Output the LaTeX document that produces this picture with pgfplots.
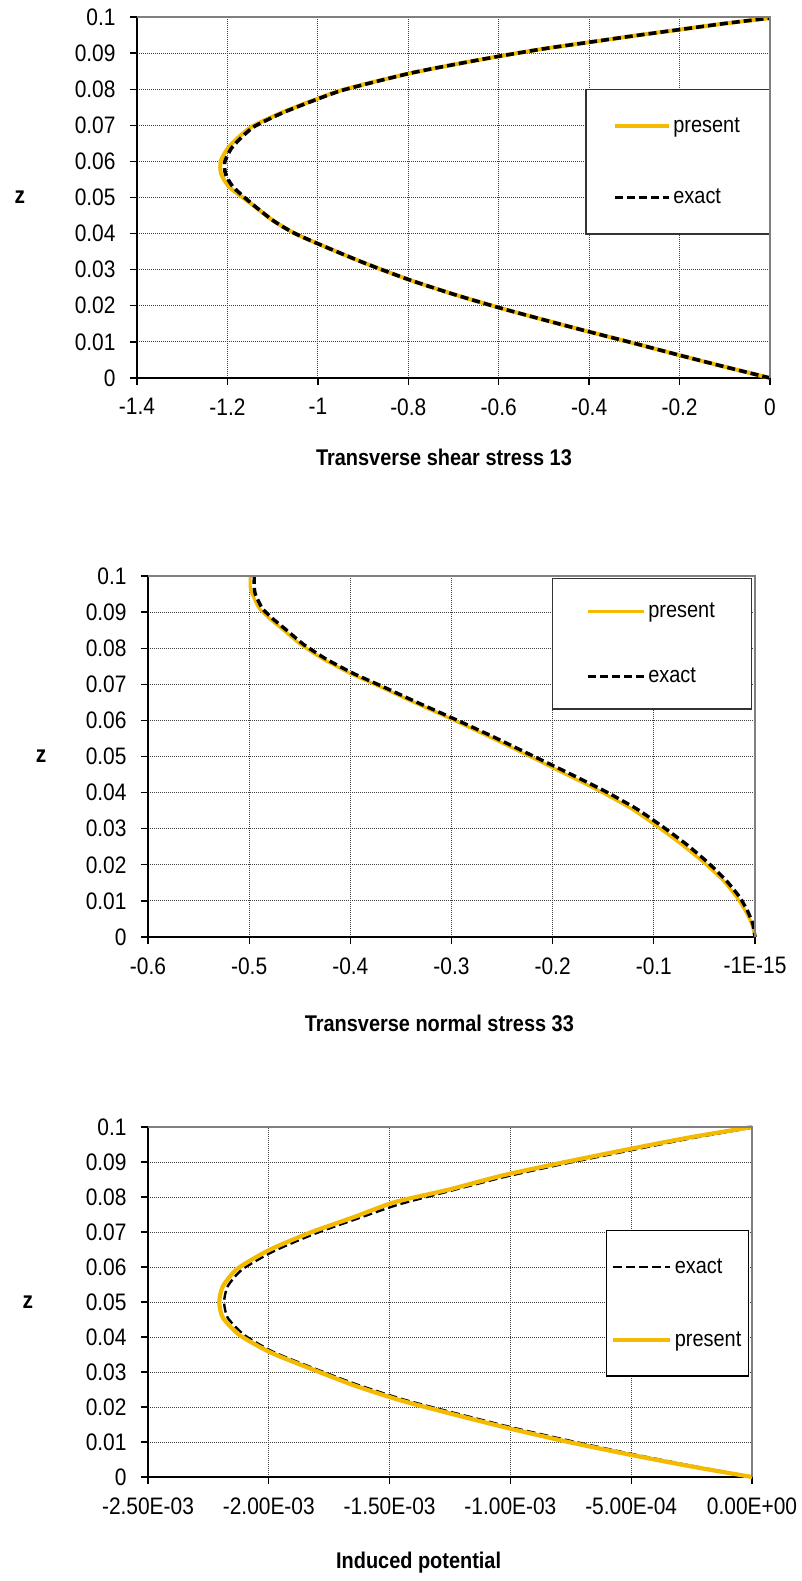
\documentclass[border=0pt]{standalone}
\usepackage{graphicx}
\usepackage{pgfplots}
\pgfplotsset{compat=1.18}
\usepackage{fontspec}
\setmainfont{Liberation Sans}
\definecolor{gold}{RGB}{243,186,0}
\definecolor{framegray}{RGB}{128,128,128}
\newcommand{\vs}[1]{\scalebox{1}[1.14]{#1}}

\pgfplotsset{
  excel/.style={
    scale only axis,
    clip=false,
    axis x line*=bottom, axis y line*=left,
    axis line style={black, line width=1.6bp},
    tick align=outside, major tick length=7bp,
    tick style={black, line width=1.3bp},
    grid=major,
    major grid style={black!75, line width=0.9bp, dash pattern=on 1bp off 1bp},
    ymin=0, ymax=0.1,
    ytick={0,0.01,0.02,0.03,0.04,0.05,0.06,0.07,0.08,0.09,0.1},
    yticklabels={\vs{0},\vs{0.01},\vs{0.02},\vs{0.03},\vs{0.04},\vs{0.05},\vs{0.06},\vs{0.07},\vs{0.08},\vs{0.09},\vs{0.1}},
    scaled x ticks=false, scaled y ticks=false,
    tick label style={font=\fontsize{21}{25}\selectfont},
    yticklabel style={xshift=-11bp},
    xticklabel style={yshift=-10bp},
    ylabel={\vs{z}},
    ylabel style={rotate=-90, anchor=center, font=\fontsize{21}{25}\selectfont\bfseries},
    xlabel style={anchor=center, font=\fontsize{20}{24}\selectfont\bfseries},
    extra description/.code={\draw[framegray, line width=1.6bp] (axis description cs:0,1) -- (axis description cs:1,1) -- (axis description cs:1,0);},
    legend cell align=left,
  },
  present/.style={gold, line width=4bp},
}

\begin{document}
\begin{tikzpicture}
\path[use as bounding box] (0,0) rectangle (802bp,1581bp);

% ---------------- Plot 1 ----------------
\begin{axis}[excel,
  at={(137bp,1203bp)}, anchor=south west,
  width=633bp, height=361bp,
  xmin=-1.4, xmax=0,
  xtick={-1.4,-1.2,-1,-0.8,-0.6,-0.4,-0.2,0},
  xticklabels={\vs{-1.4},\vs{-1.2},\vs{-1},\vs{-0.8},\vs{-0.6},\vs{-0.4},\vs{-0.2},\vs{0}},
  xlabel={\vs{Transverse shear stress 13}},
  xlabel style={at={(axis description cs:0.485,0)}, yshift=-79bp},
  ylabel style={at={(axis description cs:-0.185,0.5)}},
  legend style={at={(1,0.8006)}, anchor=north east, draw=black!80, line width=1.3bp, fill=white,
    inner xsep=27bp, inner ysep=26bp, row sep=50bp, font=\fontsize{20}{24}\selectfont,
    nodes={inner sep=2.5bp}},
  legend image code/.code={\draw[#1] (0bp,0bp) -- (54bp,0bp);},
]
\addplot[present, smooth, tension=0.4] coordinates {
(0,0) (-0.1,0.0031) (-0.2,0.0063) (-0.3,0.0096) (-0.4,0.0128) (-0.5,0.0161) (-0.6,0.0195)
(-0.7,0.0232) (-0.8,0.0273) (-0.9,0.032) (-1.0,0.0372) (-1.055,0.0403) (-1.10,0.0437)
(-1.15,0.0485) (-1.195,0.0528) (-1.214,0.0565) (-1.215,0.06) (-1.2,0.0635) (-1.177,0.0665)
(-1.145,0.0697) (-1.08,0.0735) (-1.0,0.0774) (-0.94,0.08) (-0.8,0.0843) (-0.7,0.0868) (-0.6,0.0891)
(-0.5,0.0912) (-0.4,0.093) (-0.3,0.0948) (-0.2,0.0965) (-0.1,0.0982) (0,0.0997)};
\addlegendentry{\vs{present}}
\addplot[black, line width=3.6bp, dash pattern=on 8bp off 4bp, smooth, tension=0.4] coordinates {
(0,0) (-0.1,0.0031) (-0.2,0.0063) (-0.3,0.0096) (-0.4,0.0128) (-0.5,0.0161) (-0.6,0.0195)
(-0.7,0.0232) (-0.8,0.0273) (-0.9,0.032) (-1.0,0.0372) (-1.055,0.0403) (-1.10,0.0437)
(-1.148,0.0485) (-1.188,0.053) (-1.204,0.0565) (-1.206,0.0598) (-1.192,0.0635) (-1.17,0.0665)
(-1.14,0.0697) (-1.077,0.0735) (-1.0,0.0773) (-0.94,0.0799) (-0.8,0.0843) (-0.7,0.0868) (-0.6,0.0891)
(-0.5,0.0912) (-0.4,0.093) (-0.3,0.0948) (-0.2,0.0965) (-0.1,0.0982) (0,0.0997)};
\addlegendentry{\vs{exact}}
\end{axis}

% ---------------- Plot 2 ----------------
\begin{axis}[excel,
  at={(148bp,644bp)}, anchor=south west,
  width=607bp, height=361bp,
  xmin=-0.6, xmax=0,
  xtick={-0.6,-0.5,-0.4,-0.3,-0.2,-0.1,0},
  xticklabels={\vs{-0.6},\vs{-0.5},\vs{-0.4},\vs{-0.3},\vs{-0.2},\vs{-0.1},\vs{-1E-15}},
  xlabel={\vs{Transverse normal stress 33}},
  xlabel style={at={(axis description cs:0.48,0)}, yshift=-86bp},
  ylabel style={at={(axis description cs:-0.176,0.5)}},
  legend style={at={(0.995,0.9945)}, anchor=north east, draw=black!80, line width=1.3bp, fill=white,
    inner xsep=34bp, inner ysep=22bp, row sep=44bp, font=\fontsize{20}{24}\selectfont,
    nodes={inner sep=2.5bp}},
  legend image code/.code={\draw[#1] (0bp,0bp) -- (56bp,0bp);},
]
\addplot[gold, line width=3.2bp, smooth, tension=0.3] coordinates {
(-0.499,0.1) (-0.499,0.097) (-0.497,0.095) (-0.49,0.091) (-0.479,0.088) (-0.466,0.085)
(-0.449,0.081) (-0.427,0.077) (-0.4,0.073) (-0.372,0.0695) (-0.337,0.065) (-0.301,0.0605)
(-0.263,0.0555) (-0.226,0.0505) (-0.19,0.0455) (-0.154,0.0405) (-0.122,0.0355)
(-0.096,0.0305) (-0.072,0.0255) (-0.05,0.0205) (-0.031,0.0155) (-0.018,0.011)
(-0.009,0.007) (-0.003,0.0035) (0,0)};
\addlegendentry{\vs{present}}
\addplot[black, line width=3.4bp, dash pattern=on 8bp off 4bp, smooth, tension=0.3] coordinates {
(-0.495,0.1) (-0.495,0.097) (-0.494,0.095) (-0.487,0.091) (-0.476,0.088) (-0.463,0.085)
(-0.446,0.081) (-0.424,0.077) (-0.397,0.073) (-0.369,0.0695) (-0.334,0.065) (-0.298,0.0605)
(-0.259,0.0555) (-0.222,0.0505) (-0.185,0.0455) (-0.149,0.0405) (-0.117,0.0355)
(-0.091,0.0305) (-0.067,0.0255) (-0.046,0.0205) (-0.028,0.0155) (-0.015,0.011)
(-0.007,0.007) (-0.002,0.0035) (0,0)};
\addlegendentry{\vs{exact}}
\end{axis}

% ---------------- Plot 3 ----------------
\begin{axis}[excel,
  at={(148bp,104bp)}, anchor=south west,
  width=604bp, height=350bp,
  xmin=-2.5e-3, xmax=0,
  xtick={-2.5e-3,-2e-3,-1.5e-3,-1e-3,-5e-4,0},
  xticklabels={\vs{-2.50E-03},\vs{-2.00E-03},\vs{-1.50E-03},\vs{-1.00E-03},\vs{-5.00E-04},\vs{0.00E+00}},
  xlabel={\vs{Induced potential}},
  xlabel style={at={(axis description cs:0.448,0)}, yshift=-86bp},
  ylabel style={at={(axis description cs:-0.199,0.5)}},
  legend style={at={(0.995,0.7057)}, anchor=north east, draw=black, line width=1.3bp, fill=white,
    inner xsep=4bp, inner ysep=25bp, row sep=51bp, font=\fontsize{20}{24}\selectfont,
    nodes={inner sep=3bp}},
  legend image code/.code={\draw[#1] (0bp,0bp) -- (57bp,0bp);},
]
\addplot[black, line width=2.4bp, dash pattern=on 9bp off 4bp, smooth, tension=0.4] coordinates {
(0,0) (-0.25e-3,0.0032) (-0.5e-3,0.0066) (-0.75e-3,0.0103) (-0.99e-3,0.0141) (-1.22e-3,0.0181)
(-1.44e-3,0.0221) (-1.63e-3,0.0263) (-1.8e-3,0.0307) (-1.98e-3,0.0357) (-2.1e-3,0.0405)
(-2.17e-3,0.0455) (-2.185e-3,0.05) (-2.17e-3,0.0545) (-2.11e-3,0.0593) (-1.98e-3,0.0645)
(-1.81e-3,0.0695) (-1.63e-3,0.0739) (-1.46e-3,0.0779) (-1.24e-3,0.0819) (-1.02e-3,0.0858)
(-0.77e-3,0.0896) (-0.49e-3,0.0935) (-0.25e-3,0.0968) (0,0.0998)};
\addlegendentry{\vs{exact}}
\addplot[gold, line width=4.2bp, smooth, tension=0.4] coordinates {
(0,0) (-0.25e-3,0.003) (-0.5e-3,0.0063) (-0.76e-3,0.01) (-1.0e-3,0.0138) (-1.23e-3,0.0178)
(-1.45e-3,0.0218) (-1.64e-3,0.026) (-1.81e-3,0.0305) (-1.99e-3,0.0355) (-2.12e-3,0.0405)
(-2.19e-3,0.0455) (-2.205e-3,0.05) (-2.19e-3,0.0545) (-2.13e-3,0.0595) (-2.0e-3,0.0648)
(-1.83e-3,0.0698) (-1.65e-3,0.0742) (-1.48e-3,0.0785) (-1.25e-3,0.0822) (-1.03e-3,0.0862)
(-0.78e-3,0.0899) (-0.5e-3,0.0938) (-0.26e-3,0.097) (0,0.1)};
\addlegendentry{\vs{present}}
\end{axis}
\end{tikzpicture}
\end{document}
